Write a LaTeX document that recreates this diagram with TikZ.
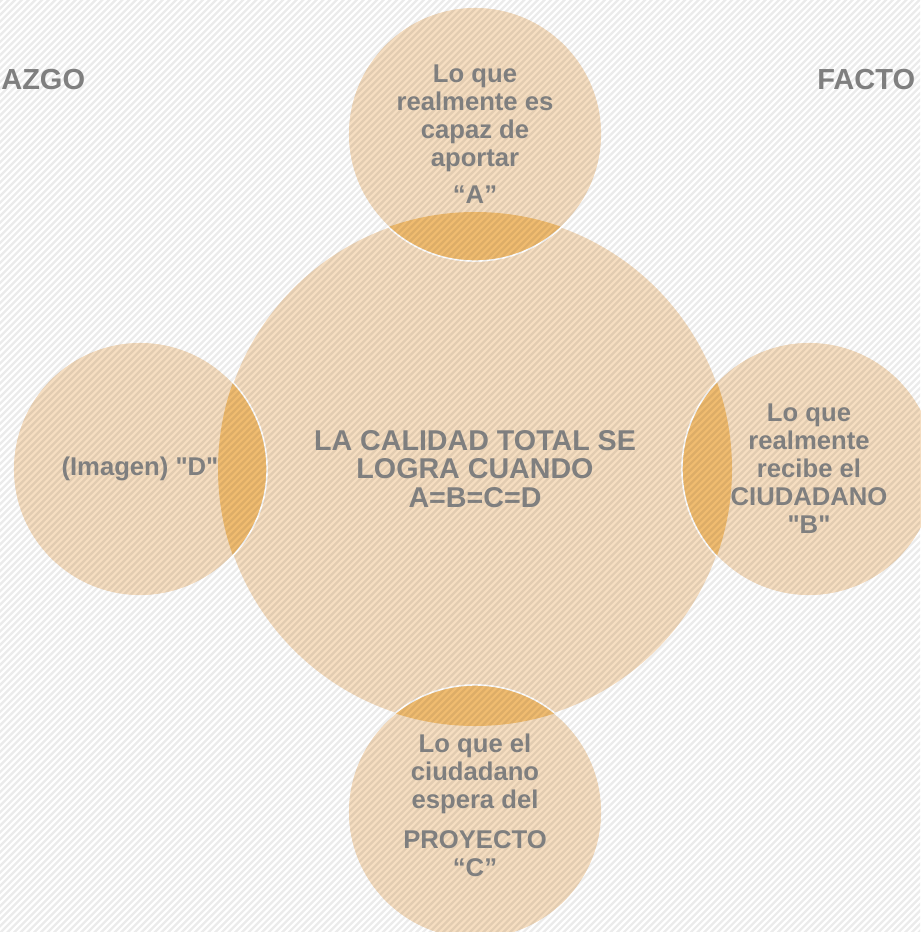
\documentclass[tikz,border=0pt]{standalone}
\usepackage{fontspec}
\setmainfont{Liberation Sans}[Ligatures=TeXOff]

\definecolor{peach}{HTML}{F6DEC1}
\definecolor{lens}{HTML}{F0BC70}
\definecolor{txtgray}{HTML}{7F7F7F}

\begin{document}
\begin{tikzpicture}[
    x=0.02cm, y=-0.02cm,
    bigcirc/.style={circle, draw=white, line width=0.8pt, fill=peach, minimum size=10.28cm, inner sep=0pt},
    smallcirc/.style={circle, draw=white, line width=0.8pt, fill=peach, minimum size=5.08cm, inner sep=0pt},
    stripe/.style={line width=1.3pt, black, draw opacity=0.08},
    txt/.style={align=center, font=\bfseries\fontsize{14.6}{15.9}\selectfont, text=txtgray},
    title/.style={anchor=west, inner sep=0pt, font=\bfseries\fontsize{16.5}{19}\selectfont, text=txtgray}
]
    \useasboundingbox (0,0) rectangle (920,932);
    \fill[white] (0,0) rectangle (920,932);

    % Central circle
    \node[bigcirc] (core) at (475,469) {};

    % Outer circles with their overlap on the central one
    \foreach \name/\x/\y in {top/475/134, right/809/469, bottom/475/812, left/140/469} {
        \node[smallcirc] (\name) at (\x,\y) {};
        \begin{scope}
            \clip (\name.center) circle (127);
            \fill[lens] (core.center) circle (257);
        \end{scope}
        \draw[white, line width=0.8pt] (\name.center) circle (127);
    }

    % Diagonal stripes over everything
    \begin{scope}
        \clip (0,0) rectangle (920,932);
        \foreach \i in {-940,-933.3,...,925}
            \draw[stripe] (\i,935) -- (\i+940,-5);
    \end{scope}

    % Texts
    \node[txt, font=\bfseries\fontsize{16.3}{16.2}\selectfont] (tcore) at (core) {LA CALIDAD TOTAL SE\\LOGRA CUANDO\\A=B=C=D};
    \node[txt] (ttop) at (top) {Lo que\\realmente es\\capaz de\\aportar\\[5pt]“A”};
    \node[txt] (tright) at (right) {Lo que\\realmente\\recibe el\\CIUDADANO\\"B"};
    \node[txt] (tbottom) at ([yshift=0.14cm]bottom.center) {Lo que el\\ciudadano\\espera del\\[7pt]PROYECTO\\“C”};
    \node[txt] (tleft) at (left) {(Imagen) "D"};

    % Cut-off headings
    \node[title] (lead) at (1,80) {AZGO};
    \node[title] (fact) at (817,80) {FACTO};
\end{tikzpicture}
\end{document}
